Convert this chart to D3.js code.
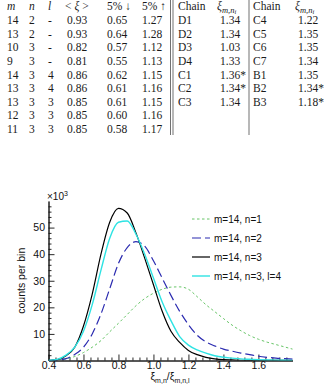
<!DOCTYPE html>
<html>
<head>
<meta charset="utf-8">
<script src="https://cdn.jsdelivr.net/npm/d3@7"></script>
<style>
  body { margin: 0; background: #fff; }
  svg { display: block; }
</style>
</head>
<body>
<svg width="324" height="390"></svg>
<script>
// ---- table values ----
const mCol = ['14', '13', '10', '9', '14', '13', '13', '12', '11'];
const nCol = ['2', '2', '3', '3', '3', '3', '3', '3', '3'];
const lCol = ['-', '-', '-', '-', '4', '4', '3', '3', '3'];
const meanXi = ['0.93', '0.93', '0.82', '0.81', '0.86', '0.86', '0.85', '0.85', '0.85'];
const low5 = ['0.65', '0.64', '0.57', '0.55', '0.62', '0.61', '0.61', '0.60', '0.58'];
const high5 = ['1.27', '1.28', '1.12', '1.13', '1.15', '1.16', '1.15', '1.16', '1.17'];
const chainA = ['D1', 'D2', 'D3', 'D4', 'C1', 'C2', 'C3'];
const xiA = ['1.34', '1.34', '1.03', '1.33', '1.36*', '1.34*', '1.34'];
const chainB = ['C4', 'C5', 'C6', 'C7', 'B1', 'B2', 'B3'];
const xiB = ['1.22', '1.35', '1.35', '1.34', '1.35', '1.34*', '1.18*'];

// ---- histogram values (counts per bin, x10^3) ----
const xi = [0.40, 0.45, 0.50, 0.55, 0.60, 0.65, 0.70, 0.75, 0.80, 0.85, 0.90, 0.95, 1.00,
            1.05, 1.10, 1.15, 1.20, 1.25, 1.30, 1.35, 1.40, 1.45, 1.50, 1.55, 1.60, 1.65,
            1.70, 1.75, 1.80];
const n1 = [0, 0.2, 0.6, 1.5, 3, 5, 7.5, 10.8, 14, 17.3, 20.6, 23.3, 25.3,
            26.8, 27.6, 27.7, 26.8, 24, 21, 18.4, 15.8, 13.3, 11.2, 9.4, 8, 6.9,
            6, 5.1, 4.2];
const n2 = [0, 0.2, 0.7, 2.3, 5, 10, 17.5, 27, 36.5, 42.5, 44.7, 43, 37.5,
            31, 24.5, 18.5, 13.5, 9.5, 7, 5.5, 4.3, 3.5, 2.8, 2.2, 1.6, 1.2,
            0.9, 0.7, 0.5];
const n3 = [0, 0.3, 1.8, 5, 13, 25, 40, 52, 57.2, 55.5, 48, 38.5, 28.5,
            18.5, 11, 6.8, 3.8, 2.2, 1.2, 0.6, 0.3, 0.2, 0.1, 0.08, 0.05, 0.03,
            0.02, 0.01, 0];
const n3l4 = [0, 0.4, 2, 5, 11, 21, 34, 46, 52, 52.5, 47.5, 40, 31,
              22, 15, 9, 5.8, 4, 2.8, 1.8, 1.2, 0.9, 0.6, 0.45, 0.3, 0.2,
              0.15, 0.1, 0.05];

const seriesNames = ['m=14, n=1', 'm=14, n=2', 'm=14, n=3', 'm=14, n=3, l=4'];
const xTicks = [0.4, 0.6, 0.8, 1.0, 1.2, 1.4, 1.6];
const yTicks = [10, 20, 30, 40, 50];

const svg = d3.select('svg');
const ink = '#1a1a1a';

// ---------- table ----------
const tab = svg.append('g')
    .attr('font-family', '"Liberation Serif", "DejaVu Serif", serif')
    .attr('font-size', 11.5)
    .attr('fill', ink);

const rowY = i => 24.3 + i * 13.55;
const headY = 10;

const leftCols = [
    { x: 7, vals: mCol }, { x: 29, vals: nCol }, { x: 48, vals: lCol },
    { x: 67, vals: meanXi }, { x: 107, vals: low5 }, { x: 142, vals: high5 }
];
leftCols.forEach(c => {
    tab.selectAll(null).data(c.vals).enter().append('text')
        .attr('x', c.x).attr('y', (d, i) => rowY(i)).text(d => d);
});
const rightCols = [
    { x: 178, vals: chainA }, { x: 220, vals: xiA },
    { x: 253, vals: chainB }, { x: 298, vals: xiB }
];
rightCols.forEach(c => {
    tab.selectAll(null).data(c.vals).enter().append('text')
        .attr('x', c.x).attr('y', (d, i) => rowY(i)).text(d => d);
});

// header
const it = (x, s) => tab.append('text').attr('x', x).attr('y', headY)
    .attr('font-style', 'italic').text(s);
it(7, 'm');
it(29, 'n');
it(48, 'l');
const mean = tab.append('text').attr('x', 65).attr('y', headY);
mean.append('tspan').text('< ');
mean.append('tspan').attr('font-style', 'italic').text('ξ');
mean.append('tspan').text(' >');
tab.append('text').attr('x', 107).attr('y', headY).text('5% ↓');
tab.append('text').attr('x', 142).attr('y', headY).text('5% ↑');
tab.append('text').attr('x', 178).attr('y', headY).text('Chain');
tab.append('text').attr('x', 253).attr('y', headY).text('Chain');
[217, 295].forEach(x => {
    const t = tab.append('text').attr('x', x).attr('y', headY)
        .attr('font-style', 'italic').attr('fill', ink);
    t.append('tspan').attr('fill', ink).text('ξ');
    t.append('tspan').attr('fill', ink).attr('font-size', 8.5).attr('dy', 2.5).text('m,n');
    t.append('tspan').attr('fill', ink).attr('font-size', 6.5).attr('dy', 1.5).text('i');
});

// rules
[170.5, 173].forEach(x => {
    svg.append('line').attr('x1', x).attr('x2', x).attr('y1', 0).attr('y2', 135)
        .attr('stroke', '#333').attr('stroke-width', 0.7);
});
svg.append('line').attr('x1', 249).attr('x2', 249).attr('y1', 0).attr('y2', 135)
    .attr('stroke', '#333').attr('stroke-width', 0.7);

// ---------- chart ----------
const x = d3.scaleLinear().domain([0.4, 1.795]).range([48.5, 292.5]);
const y = d3.scaleLinear().domain([0, 60]).range([360.5, 201]);

const chart = svg.append('g')
    .attr('font-family', '"Liberation Sans", Arial, sans-serif');

const minorX = d3.range(0.44, 1.795, 0.04).filter(v => Math.abs(v * 5 - Math.round(v * 5)) > 1e-6);
const minorY = d3.range(2, 60, 2).filter(v => v % 10 !== 0);

chart.append('g').attr('transform', `translate(0,${y(0)})`)
    .call(d3.axisBottom(x).tickValues(minorX).tickSize(-3).tickSizeOuter(0).tickFormat(''));
chart.append('g').attr('transform', `translate(0,${y(0)})`)
    .call(d3.axisBottom(x).tickValues(xTicks).tickSize(-6).tickSizeOuter(0).tickPadding(1.5)
        .tickFormat(d3.format('.1f')));
chart.append('g').attr('transform', `translate(${x(0.4)},0)`)
    .call(d3.axisLeft(y).tickValues(minorY).tickSize(-3).tickSizeOuter(0).tickFormat(''));
chart.append('g').attr('transform', `translate(${x(0.4)},0)`)
    .call(d3.axisLeft(y).tickValues(yTicks).tickSize(-6).tickSizeOuter(0).tickPadding(3.5));

chart.selectAll('.tick text').attr('font-size', 10.5).attr('fill', '#111')
    .attr('font-family', '"Liberation Sans", Arial, sans-serif');
chart.selectAll('.domain, .tick line').attr('stroke', '#111').attr('stroke-width', 0.9);

// multiplier
const mult = chart.append('text').attr('x', 47).attr('y', 200).attr('font-size', 10).attr('fill', '#111');
mult.append('tspan').text('×10');
mult.append('tspan').attr('font-size', 7).attr('dy', -4).text('3');

// axis titles
chart.append('text')
    .attr('transform', `translate(25,${(y(0) + y(60)) / 2}) rotate(-90)`)
    .attr('text-anchor', 'middle').attr('font-size', 10.5).attr('fill', '#111')
    .text('counts per bin');
const xt = chart.append('text').attr('x', 170).attr('y', 380)
    .attr('text-anchor', 'middle').attr('font-size', 10.5).attr('fill', '#111');
xt.append('tspan').text('ξ');
xt.append('tspan').attr('font-size', 7).attr('dy', 2.5).text('m,n');
xt.append('tspan').attr('dy', -2.5).text('/ξ');
xt.append('tspan').attr('font-size', 7).attr('dy', 2.5).text('m,n,l');

// curves
const styles = [
    { vals: n1, color: '#66c466', width: 1, dash: '2.5,2.5' },
    { vals: n2, color: '#2b2bb0', width: 1.2, dash: '9,4' },
    { vals: n3, color: '#000000', width: 1.2, dash: null },
    { vals: n3l4, color: '#2ee3e3', width: 1.4, dash: null }
];
const line = d3.line().x((d, i) => x(xi[i])).y(d => y(d)).curve(d3.curveMonotoneX);
const clipId = 'plotclip';
svg.append('clipPath').attr('id', clipId).append('rect')
    .attr('x', x(0.4)).attr('y', y(60)).attr('width', x(1.795) - x(0.4)).attr('height', y(0) - y(60));

chart.append('g').attr('clip-path', `url(#${clipId})`)
    .selectAll('path.curve').data(styles).enter().append('path')
    .attr('class', 'curve')
    .attr('d', s => line(s.vals))
    .attr('fill', 'none')
    .attr('stroke', s => s.color)
    .attr('stroke-width', s => s.width)
    .attr('stroke-dasharray', s => s.dash);

// legend
const leg = chart.append('g');
styles.forEach((s, i) => {
    const ly = 219 + i * 19;
    leg.append('line').attr('x1', 192).attr('x2', 210).attr('y1', ly).attr('y2', ly)
        .attr('stroke', s.color).attr('stroke-width', s.width).attr('stroke-dasharray', s.dash);
    leg.append('text').attr('x', 214).attr('y', ly + 3.6).attr('font-size', 10).attr('fill', '#111')
        .text(seriesNames[i]);
});
</script>
</body>
</html>
